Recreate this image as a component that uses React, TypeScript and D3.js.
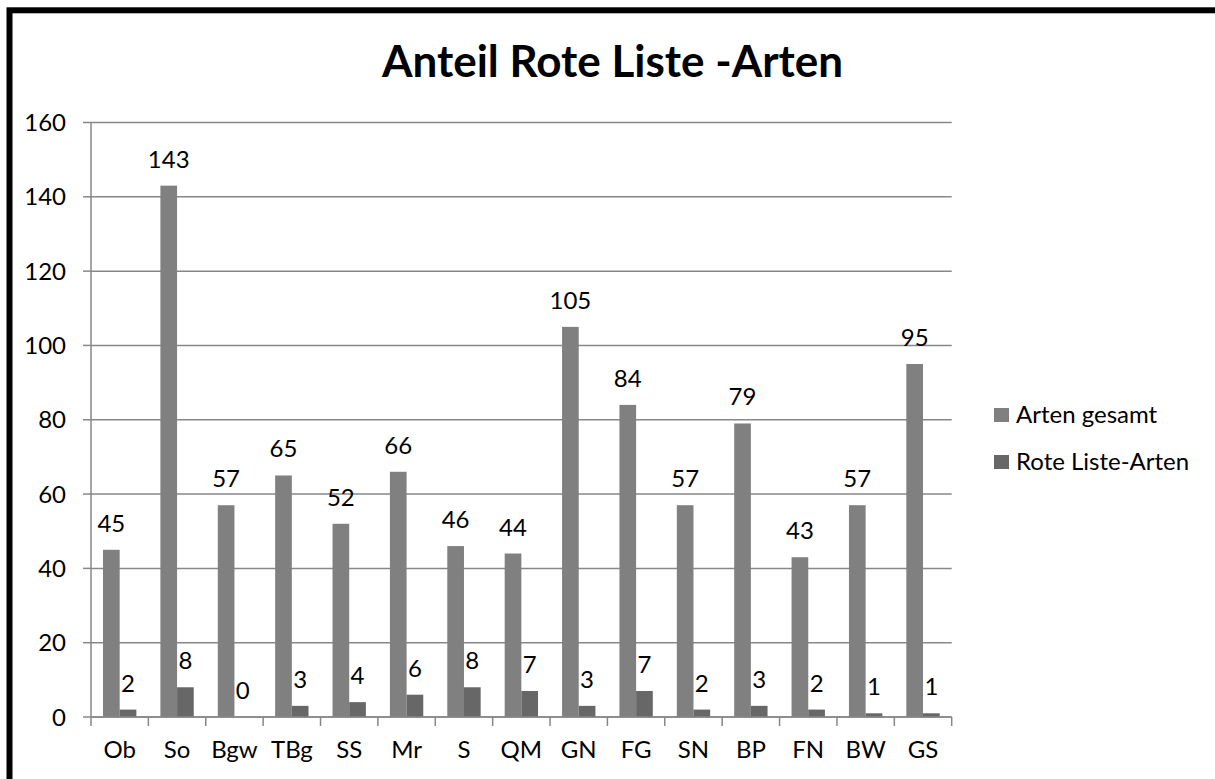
import React from "react";
import * as d3 from "d3";

const categories = ["Ob", "So", "Bgw", "TBg", "SS", "Mr", "S", "QM", "GN", "FG", "SN", "BP", "FN", "BW", "GS"];
const artenGesamt = [45, 143, 57, 65, 52, 66, 46, 44, 105, 84, 57, 79, 43, 57, 95];
const roteListe = [2, 8, 0, 3, 4, 6, 8, 7, 3, 7, 2, 3, 2, 1, 1];
const seriesNames = ["Arten gesamt", "Rote Liste-Arten"];
const yTicks = [0, 20, 40, 60, 80, 100, 120, 140, 160];
const title = "Anteil Rote Liste -Arten";

const W = 1215;
const H = 779;
const FONT = "Lato, 'Open Sans', sans-serif";
const COLORS = ["#808080", "#676767"];
const GRID = "#878787";
const FS = 24;

export default function App() {
  const left = 91;
  const right = 951.7;
  const top = 122.5;
  const bottom = 717;

  const x = d3.scaleBand<string>().domain(categories).range([left, right]).padding(0);
  const x1 = d3
    .scaleBand<string>()
    .domain(seriesNames)
    .range([0, x.bandwidth()])
    .paddingInner(0)
    .paddingOuter(0.72);
  const y = d3.scaleLinear().domain([0, 160]).range([bottom, top]);

  const seriesData = [artenGesamt, roteListe];
  const boundaries = categories.map((c) => x(c) as number).concat([right]);

  return (
    <svg width={W} height={H} style={{ position: "absolute", left: 0, top: 0, display: "block" }}>
      <rect x={0} y={0} width={W} height={H} fill="#fff" />
      <rect x={9.5} y={10.3} width={W + 50} height={H + 50} fill="none" stroke="#000" strokeWidth={6} />
      <text x={612.5} y={77} textAnchor="middle" fontFamily={FONT} fontWeight="bold" fontSize={44} fill="#000">
        {title}
      </text>
      {yTicks.map((t) => (
        <g key={t}>
          <line x1={left} x2={right} y1={y(t)} y2={y(t)} stroke={GRID} strokeWidth={1.5} />
          <line x1={left - 8} x2={left} y1={y(t)} y2={y(t)} stroke={GRID} strokeWidth={1.5} />
          <text x={66} y={y(t) + 8.5} textAnchor="end" fontFamily={FONT} fontSize={FS} fill="#000">
            {t}
          </text>
        </g>
      ))}
      <line x1={left} x2={left} y1={top} y2={bottom} stroke={GRID} strokeWidth={1.5} />
      {boundaries.map((b, i) => (
        <line key={i} x1={b} x2={b} y1={bottom} y2={bottom + 9} stroke={GRID} strokeWidth={1.5} />
      ))}
      {seriesData.map((vals, si) =>
        categories.map((c, ci) => {
          const bx = (x(c) as number) + (x1(seriesNames[si]) as number);
          const bw = x1.bandwidth();
          const v = vals[ci];
          return (
            <g key={`${si}-${ci}`}>
              <rect x={bx} y={y(v)} width={bw} height={bottom - y(v)} fill={COLORS[si]} />
              <text
                x={bx + bw / 2}
                y={y(v) - 18}
                textAnchor="middle"
                fontFamily={FONT}
                fontSize={FS}
                fill="#000"
              >
                {v}
              </text>
            </g>
          );
        })
      )}
      <line x1={left} x2={right} y1={bottom} y2={bottom} stroke={GRID} strokeWidth={1.5} />
      {categories.map((c) => (
        <text
          key={c}
          x={(x(c) as number) + x.bandwidth() / 2}
          y={758}
          textAnchor="middle"
          fontFamily={FONT}
          fontSize={FS}
          fill="#000"
        >
          {c}
        </text>
      ))}
      {seriesNames.map((s, i) => (
        <g key={s}>
          <rect x={994} y={408 + i * 47} width={15} height={14} fill={COLORS[i]} />
          <text x={1016} y={422.5 + i * 47} fontFamily={FONT} fontSize={FS} fill="#000">
            {s}
          </text>
        </g>
      ))}
    </svg>
  );
}
